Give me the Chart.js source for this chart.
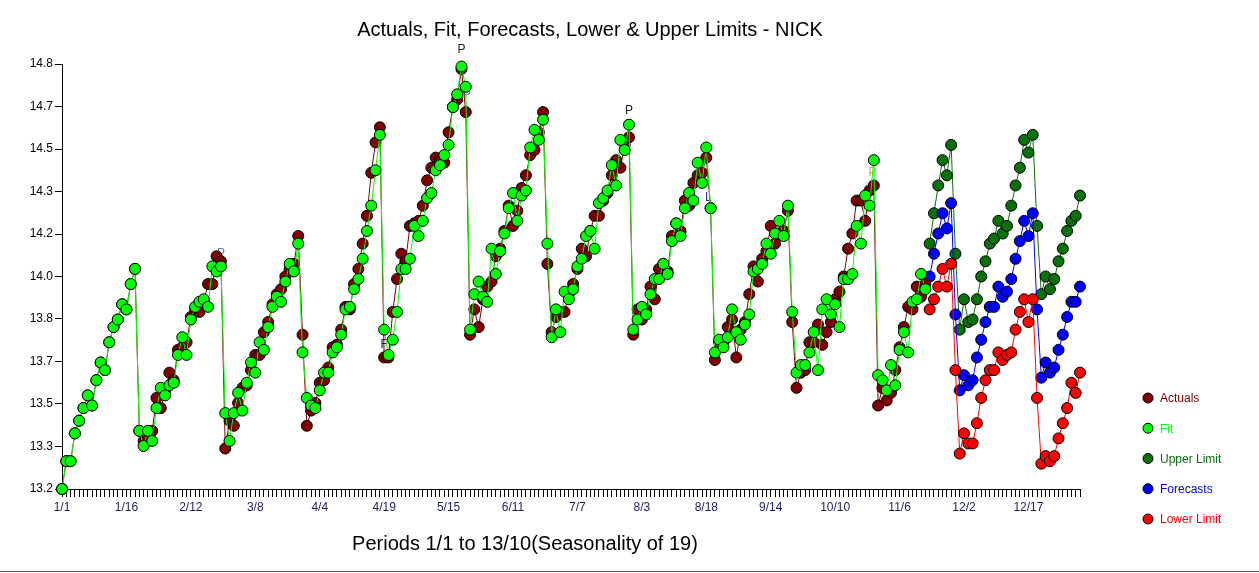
<!DOCTYPE html>
<html><head><meta charset="utf-8">
<script src="https://cdn.jsdelivr.net/npm/chart.js@4.4.1/dist/chart.umd.min.js"></script>
<style>html,body{margin:0;padding:0;background:#fff;}canvas{display:block;}</style>
</head><body>
<canvas id="c" width="1259" height="573"></canvas>
<script>
// ---------- DATA ----------
const seasonality = 19;
const periods = [];
for (let s = 1; s <= 13; s++) { for (let p = 1; p <= seasonality; p++) { if (s === 13 && p > 10) break; periods.push(s + '/' + p); } }

const xTickLabels = ['1/1','1/16','2/12','3/8','4/4','4/19','5/15','6/11','7/7','8/3','8/18','9/14','10/10','11/6','12/2','12/17'];
const yTickValues = [13.16, 13.328, 13.496, 13.664, 13.832, 14.0, 14.168, 14.336, 14.504, 14.672, 14.84];
const yTickLabels = ['13.2','13.3','13.5','13.7','13.8','14.0','14.2','14.3','14.5','14.7','14.8'];

const actuals = [
13.16,13.27,13.27,13.38,13.43,13.48,13.53,13.49,13.59,13.66,13.63,13.74,13.80,13.83,13.89,13.87,13.97,14.03,13.39,13.35,
13.37,13.39,13.52,13.48,13.54,13.62,13.59,13.71,13.72,13.74,13.84,13.87,13.86,13.90,13.97,13.97,14.08,14.06,13.32,13.43,
13.41,13.50,13.56,13.57,13.63,13.69,13.69,13.78,13.82,13.89,13.93,13.95,14.00,14.03,14.05,14.16,13.77,13.41,13.47,13.50,
13.58,13.59,13.64,13.72,13.73,13.79,13.88,13.87,13.97,14.03,14.13,14.24,14.41,14.53,14.59,13.68,13.68,13.86,13.99,14.09,
14.06,14.20,14.21,14.22,14.28,14.38,14.43,14.47,14.46,14.45,14.57,14.67,14.70,14.82,14.65,13.77,13.87,13.80,13.91,13.96,
13.98,14.08,14.11,14.18,14.28,14.20,14.26,14.35,14.40,14.48,14.50,14.57,14.65,14.05,13.78,13.84,13.86,13.86,13.93,13.97,
14.03,14.11,14.08,14.18,14.24,14.24,14.30,14.33,14.40,14.46,14.43,14.52,14.55,13.77,13.87,13.83,13.87,13.96,13.91,14.03,
14.05,14.02,14.16,14.21,14.18,14.30,14.28,14.37,14.40,14.41,14.47,14.27,13.67,13.74,13.74,13.80,13.83,13.68,13.79,13.82,
13.93,14.04,13.98,14.07,14.10,14.20,14.13,14.17,14.18,14.26,13.82,13.56,13.62,13.63,13.74,13.74,13.81,13.73,13.78,13.82,
13.91,13.94,14.00,14.11,14.17,14.30,14.30,14.22,14.34,14.36,13.49,13.56,13.51,13.54,13.63,13.72,13.80,13.88,13.87,13.96,
13.92,13.97];

const fit = [
13.16,13.27,13.27,13.38,13.43,13.48,13.53,13.49,13.59,13.66,13.63,13.74,13.80,13.83,13.89,13.87,13.97,14.03,13.39,13.33,
13.39,13.35,13.48,13.56,13.53,13.57,13.58,13.69,13.76,13.69,13.83,13.88,13.90,13.91,13.88,14.04,14.02,14.04,13.46,13.35,
13.46,13.54,13.47,13.58,13.66,13.62,13.74,13.71,13.80,13.88,13.92,13.90,13.98,14.05,14.02,14.13,13.70,13.52,13.49,13.48,
13.55,13.62,13.62,13.70,13.72,13.77,13.87,13.88,13.95,13.99,14.07,14.18,14.28,14.42,14.56,13.79,13.69,13.75,13.86,14.03,
14.03,14.07,14.20,14.16,14.22,14.31,14.33,14.42,14.44,14.48,14.52,14.67,14.72,14.83,14.75,13.79,13.93,13.98,13.92,13.90,
14.11,14.01,14.10,14.17,14.27,14.33,14.22,14.32,14.34,14.51,14.58,14.54,14.62,14.13,13.76,13.87,13.78,13.94,13.91,13.95,
14.04,14.07,14.16,14.18,14.11,14.29,14.31,14.34,14.44,14.36,14.54,14.50,14.60,13.79,13.83,13.88,13.85,13.93,13.99,13.99,
14.05,14.01,14.14,14.21,14.16,14.27,14.33,14.30,14.45,14.37,14.51,14.27,13.70,13.75,13.72,13.76,13.87,13.78,13.75,13.81,
13.85,14.02,14.03,14.05,14.13,14.09,14.17,14.22,14.16,14.28,13.86,13.62,13.65,13.65,13.70,13.78,13.63,13.87,13.91,13.85,
13.89,13.80,13.99,13.99,14.01,14.20,14.13,14.32,14.28,14.46,13.61,13.59,13.55,13.65,13.57,13.71,13.78,13.70,13.90,13.91,
14.01,13.95];

// forecast horizon (periods 11/13 .. 13/10)
const upperLimit = [
14.13,14.25,14.36,14.46,14.40,14.52,14.09,13.79,13.91,13.82,13.83,13.91,14.00,14.06,14.13,14.15,14.22,14.17,14.20,14.28,
14.36,14.43,14.54,14.49,14.56,14.20,13.93,14.00,13.95,13.99,14.06,14.11,14.18,14.22,14.24,14.32];
const forecasts = [
14.00,14.09,14.17,14.25,14.19,14.29,13.85,13.55,13.61,13.57,13.59,13.68,13.75,13.82,13.88,13.88,13.96,13.92,13.94,13.99,
14.07,14.14,14.22,14.16,14.25,13.87,13.60,13.66,13.62,13.64,13.71,13.77,13.84,13.90,13.90,13.96];
const lowerLimit = [
13.87,13.91,13.96,14.03,13.96,14.05,13.63,13.30,13.38,13.34,13.34,13.42,13.52,13.59,13.63,13.63,13.70,13.67,13.69,13.70,
13.79,13.86,13.91,13.82,13.91,13.52,13.26,13.29,13.27,13.29,13.36,13.42,13.48,13.58,13.54,13.62];

// small point annotations: [period index, value, text]
const annoIndex = [37, 93, 94.3, 75, 132, 150.5, 188.7];
const annoValue = [14.09, 14.895, 14.72, 13.73, 14.655, 14.31, 14.41];
const annoText  = ['P', 'P', 'P', 'F', 'P', 'L', 'P'];

const titleText = 'Actuals, Fit, Forecasts, Lower & Upper Limits - NICK';
const xTitleText = 'Periods 1/1 to 13/10(Seasonality of 19)';
const legendNames = ['Actuals', 'Fit', 'Upper Limit', 'Forecasts', 'Lower Limit'];

// ---------- BUILD ----------
const FONT = '"Liberation Sans", Arial, sans-serif';
const C_ACT = '#800000', C_FIT = '#00FF00', C_UP = '#0a700a', C_FC = '#0000FF', C_LO = '#FF0000';
const legendColors = [C_ACT, C_FIT, C_UP, C_FC, C_LO];
const annoColors = ['#7070d0', '#202040', '#7070d0', '#202050', '#202040', '#3040a0', '#d0a060'];

const nHist = actuals.length;
const padNull = n => new Array(n).fill(null);
const upData = padNull(nHist).concat(upperLimit);
const fcData = padNull(nHist).concat(forecasts);
const loData = padNull(nHist).concat(lowerLimit);

function ds(label, data, color, order) {
  return { label, data, order, borderColor: color, backgroundColor: color, borderWidth: 1,
    pointRadius: 5.5, pointHoverRadius: 5.5, pointBorderColor: '#000', pointBorderWidth: 1,
    pointBackgroundColor: color, tension: 0, clip: false, spanGaps: false };
}

const textPlugin = {
  id: 'texts',
  beforeDatasetsDraw(chart) {
    const ctx = chart.ctx, xs = chart.scales.x, ys = chart.scales.y;
    ctx.save();
    ctx.font = '12px ' + FONT;
    ctx.textAlign = 'center'; ctx.textBaseline = 'middle';
    for (let i = 0; i < annoText.length; i++) {
      ctx.fillStyle = annoColors[i];
      ctx.fillText(annoText[i], xs.getPixelForValue(annoIndex[i]), ys.getPixelForValue(annoValue[i]));
    }
    ctx.restore();
  },
  afterDraw(chart) {
    const ctx = chart.ctx;
    ctx.save();
    ctx.fillStyle = '#000';
    ctx.font = '20px ' + FONT;
    ctx.textAlign = 'center'; ctx.textBaseline = 'middle';
    ctx.fillText(titleText, 590, 30);
    ctx.fillText(xTitleText, 525, 544);
    ctx.font = '12px ' + FONT;
    ctx.textAlign = 'left';
    for (let i = 0; i < legendNames.length; i++) {
      const y = 398 + i * 30.25;
      ctx.beginPath(); ctx.arc(1148, y, 5, 0, Math.PI * 2);
      ctx.fillStyle = legendColors[i]; ctx.fill();
      ctx.lineWidth = 1; ctx.strokeStyle = '#000'; ctx.stroke();
      ctx.fillStyle = legendColors[i];
      ctx.fillText(legendNames[i], 1160, y + 1);
    }
    ctx.strokeStyle = '#606060'; ctx.lineWidth = 1;
    ctx.beginPath(); ctx.moveTo(0, 571.5); ctx.lineTo(1259, 571.5); ctx.stroke();
    ctx.restore();
  }
};

new Chart(document.getElementById('c'), {
  type: 'line',
  data: {
    labels: periods,
    datasets: [
      ds('Actuals', actuals, C_ACT, 2),
      ds('Fit', fit, C_FIT, 1),
      ds('Upper Limit', upData, C_UP, 5),
      ds('Forecasts', fcData, C_FC, 4),
      ds('Lower Limit', loData, C_LO, 3)
    ]
  },
  options: {
    responsive: false, animation: false, events: [],
    layout: { padding: { left: 0, top: 64, right: 179, bottom: 0 } },
    plugins: { legend: { display: false }, title: { display: false }, tooltip: { enabled: false } },
    scales: {
      x: {
        type: 'category', offset: false,
        border: { display: true, color: '#000', width: 1 },
        grid: { display: true, drawOnChartArea: false, drawTicks: true, tickLength: 8, color: '#000', lineWidth: 1 },
        ticks: { autoSkip: false, maxRotation: 0, minRotation: 0, padding: 3, color: '#1c1c64',
          font: { family: FONT, size: 12 },
          callback: (v, i) => xTickLabels.includes(periods[i]) ? periods[i] : '' },
        afterFit(s) { s.height = 84; }
      },
      y: {
        type: 'linear', min: 13.16, max: 14.84,
        border: { display: true, color: '#000', width: 1 },
        grid: { display: true, drawOnChartArea: false, drawTicks: true, tickLength: 7, color: '#000', lineWidth: 1 },
        afterBuildTicks(s) { s.ticks = yTickValues.map(v => ({ value: v })); },
        ticks: { padding: 2, color: '#000', font: { family: FONT, size: 12 },
          callback: (v, i) => yTickLabels[i] },
        afterFit(s) { s.width = 62; }
      }
    }
  },
  plugins: [textPlugin]
});
</script>
</body></html>
